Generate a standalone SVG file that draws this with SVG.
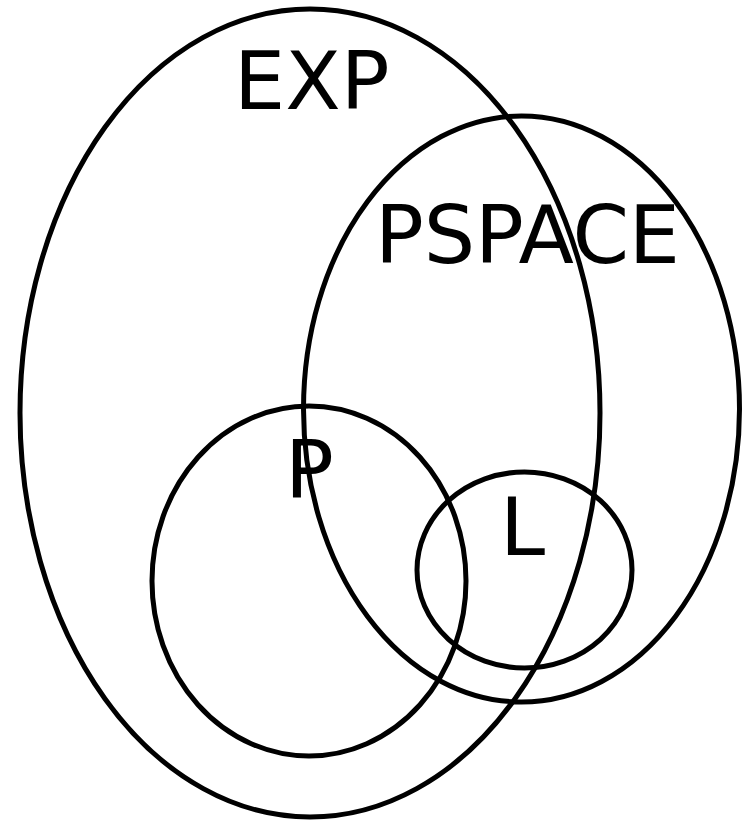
<svg xmlns="http://www.w3.org/2000/svg" width="742" height="822" viewBox="0 0 742 822">
<style>
.set{fill:none;stroke:#000;stroke-width:5}
.lbl{font-family:"DejaVu Sans",sans-serif;font-size:81px;fill:#000}
</style>
<rect width="742" height="822" fill="#fff"/>
<g id="EXP"><ellipse class="set" cx="310" cy="413" rx="290" ry="404"/><text class="lbl" x="234" y="109">EXP</text></g>
<g id="PSPACE"><ellipse class="set" cx="521.5" cy="409" rx="218" ry="293"/><text class="lbl" x="375" y="263" textLength="305">PSPACE</text></g>
<g id="P"><ellipse class="set" cx="309" cy="581" rx="157" ry="175"/><text class="lbl" x="285" y="498">P</text></g>
<g id="L"><ellipse class="set" cx="524.5" cy="570" rx="107.5" ry="98"/><text class="lbl" x="500" y="555">L</text></g>
</svg>
